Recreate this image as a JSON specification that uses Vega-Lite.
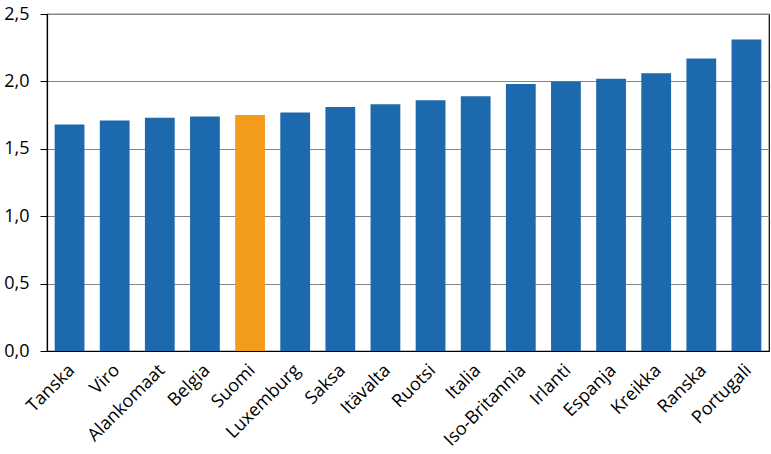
{
  "$schema": "https://vega.github.io/schema/vega-lite/v6.json",
  "width": 722,
  "height": 337,
  "autosize": {"type": "none"},
  "padding": {"left": 47, "top": 14, "right": 2, "bottom": 103},
  "background": "white",
  "data": {
    "values": [
      {"maa": "Tanska", "arvo": 1.68, "ryhma": "muu"},
      {"maa": "Viro", "arvo": 1.71, "ryhma": "muu"},
      {"maa": "Alankomaat", "arvo": 1.73, "ryhma": "muu"},
      {"maa": "Belgia", "arvo": 1.74, "ryhma": "muu"},
      {"maa": "Suomi", "arvo": 1.75, "ryhma": "Suomi"},
      {"maa": "Luxemburg", "arvo": 1.77, "ryhma": "muu"},
      {"maa": "Saksa", "arvo": 1.81, "ryhma": "muu"},
      {"maa": "Itävalta", "arvo": 1.83, "ryhma": "muu"},
      {"maa": "Ruotsi", "arvo": 1.86, "ryhma": "muu"},
      {"maa": "Italia", "arvo": 1.89, "ryhma": "muu"},
      {"maa": "Iso-Britannia", "arvo": 1.98, "ryhma": "muu"},
      {"maa": "Irlanti", "arvo": 2.0, "ryhma": "muu"},
      {"maa": "Espanja", "arvo": 2.02, "ryhma": "muu"},
      {"maa": "Kreikka", "arvo": 2.06, "ryhma": "muu"},
      {"maa": "Ranska", "arvo": 2.17, "ryhma": "muu"},
      {"maa": "Portugali", "arvo": 2.31, "ryhma": "muu"}
    ]
  },
  "mark": {"type": "bar"},
  "encoding": {
    "x": {
      "field": "maa",
      "type": "nominal",
      "sort": null,
      "scale": {"paddingInner": 0.34, "paddingOuter": 0.17},
      "axis": {
        "title": null,
        "labelAngle": -45,
        "labelFont": "Open Sans",
        "labelFontSize": 18,
        "labelColor": "#000000",
        "ticks": false,
        "labelPadding": 10,
        "labelOffset": -4,
        "domainColor": "#000000",
        "domainWidth": 1.2
      }
    },
    "y": {
      "field": "arvo",
      "type": "quantitative",
      "scale": {"domain": [0, 2.5], "nice": false},
      "axis": {
        "title": null,
        "values": [0, 0.5, 1, 1.5, 2, 2.5],
        "labelExpr": "replace(format(datum.value, '.1f'), '.', ',')",
        "labelFont": "Open Sans",
        "labelFontSize": 18,
        "labelColor": "#000000",
        "tickSize": 7,
        "tickColor": "#000000",
        "labelPadding": 11,
        "domainColor": "#000000",
        "domainWidth": 1.2,
        "grid": true,
        "gridColor": "#868686",
        "gridWidth": 1.2
      }
    },
    "color": {
      "field": "ryhma",
      "type": "nominal",
      "scale": {"domain": ["muu", "Suomi"], "range": ["#1D69AD", "#F39C1C"]},
      "legend": null
    }
  },
  "config": {
    "view": {"stroke": "#000000", "strokeWidth": 1.2}
  }
}
